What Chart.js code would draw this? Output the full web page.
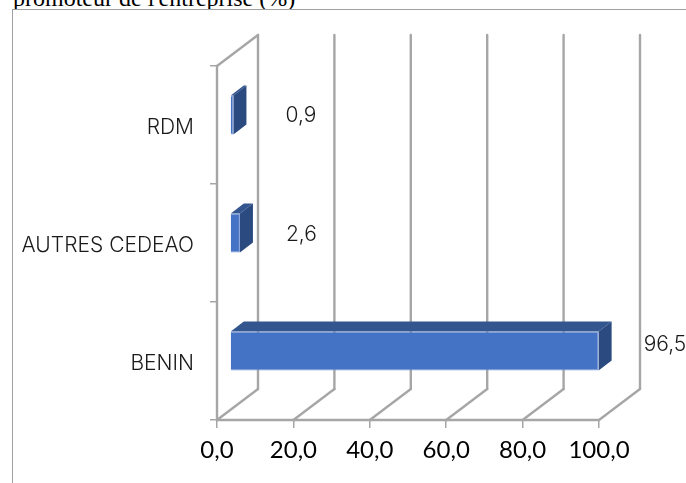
<!DOCTYPE html>
<html><head><meta charset="utf-8">
<style>
html,body{margin:0;padding:0;background:#fff;width:686px;height:483px;overflow:hidden}
#frame{position:absolute;left:12px;top:9px;width:674px;height:474px;border-left:1.5px solid #a0a0a0;border-top:1.5px solid #a0a0a0;box-sizing:border-box}
#cap{position:absolute;left:13px;top:-15px;font:24px/27px "Liberation Serif",serif;color:#000;white-space:nowrap;height:24px;overflow:hidden}
#wrap{position:absolute;left:0;top:0;width:686px;height:483px}
</style>
<script src="https://cdn.jsdelivr.net/npm/chart.js@4"></script>
</head><body>
<div id="cap">promoteur de l'entreprise (%)</div>
<div id="frame"></div>
<div id="wrap"><canvas id="c" width="686" height="483"></canvas></div>
<script>
const categories = ["BENIN", "AUTRES CEDEAO", "RDM"];
const values = [96.5, 2.6, 0.9];
const valueLabels = ["96,5", "2,6", "0,9"];
const xTicks = [0, 20, 40, 60, 80, 100];

const wallDX = 41, wallDY = 31, barDX = 13, barDY = 10;
const labelNudge = [[58, -18], [59, -10], [65, -11]];
const wallColor = "#a6a6a6";

function seg(ctx, x1, y1, x2, y2) { ctx.beginPath(); ctx.moveTo(x1, y1); ctx.lineTo(x2, y2); ctx.stroke(); }
function poly(ctx, pts, color) {
  ctx.fillStyle = color; ctx.beginPath();
  pts.forEach((p, i) => i ? ctx.lineTo(p[0], p[1]) : ctx.moveTo(p[0], p[1]));
  ctx.closePath(); ctx.fill();
}

const depth3d = {
  id: "depth3d",
  beforeDatasetsDraw(chart) {
    const { ctx, chartArea: a, scales: { x } } = chart;
    ctx.save();
    ctx.strokeStyle = wallColor; ctx.lineWidth = 2.4; ctx.lineCap = "round"; ctx.lineJoin = "round";
    xTicks.forEach(v => {
      const px = x.getPixelForValue(v);
      seg(ctx, px, a.bottom, px + wallDX, a.bottom - wallDY);
      seg(ctx, px + wallDX, a.bottom - wallDY, px + wallDX, a.top - wallDY);
    });
    seg(ctx, a.left, a.top, a.left + wallDX, a.top - wallDY);
    seg(ctx, a.left, a.top, a.left, a.bottom);
    seg(ctx, a.left, a.bottom, a.right, a.bottom);
    ctx.restore();
  },
  beforeDatasetDraw(chart, args) {
    const ctx = chart.ctx;
    ctx.save();
    args.meta.data.forEach(b => {
      const top = b.y - b.height / 2 - barDY, bot = b.y + b.height / 2 - barDY;
      const x0 = b.base + barDX, x1 = b.x + barDX;
      poly(ctx, [[x0, top], [x0 + barDX, top - barDY], [x1 + barDX, top - barDY], [x1, top]], "#34568f");
      poly(ctx, [[x1, top], [x1 + barDX, top - barDY], [x1 + barDX, bot - barDY], [x1, bot]], "#2a4a80");
    });
    ctx.translate(barDX, -barDY);
  },
  afterDatasetDraw(chart) { chart.ctx.restore(); },
  afterDatasetsDraw(chart) {
    const ctx = chart.ctx, meta = chart.getDatasetMeta(0);
    ctx.save();
    ctx.font = '300 21px Inter, sans-serif';
    ctx.fillStyle = "#1a1a1a"; ctx.textAlign = "left"; ctx.textBaseline = "middle";
    meta.data.forEach((b, i) => ctx.fillText(valueLabels[i], b.x + labelNudge[i][0], b.y + labelNudge[i][1] + 2));
    ctx.restore();
  }
};

new Chart(document.getElementById("c"), {
  type: "bar",
  data: { labels: categories, datasets: [{ data: values, backgroundColor: "#4472c4", borderWidth: 1, borderColor: "#7d9bd6",
    barPercentage: 0.33, categoryPercentage: 1, clip: false }] },
  plugins: [depth3d],
  options: {
    indexAxis: "y", responsive: false, animation: false,
    layout: { padding: { left: 0, top: 66, right: 87, bottom: 0 } },
    plugins: { legend: { display: false }, tooltip: { enabled: false }, title: { display: false } },
    scales: {
      x: {
        min: 0, max: 100, afterFit(s) { s.height = 63; },
        afterBuildTicks(s) { s.ticks = xTicks.map(v => ({ value: v })); },
        border: { display: false },
        grid: { drawOnChartArea: false, drawTicks: true, tickLength: 8, color: wallColor, lineWidth: 1.5 },
        ticks: { color: "#000", font: { family: "Lato, sans-serif", size: 24 }, padding: 8, maxRotation: 0,
          callback: v => v.toFixed(1).replace(".", ",") }
      },
      y: {
        reverse: true, afterFit(s) { s.width = 217; },
        border: { display: false },
        grid: { offset: true, drawOnChartArea: false, drawTicks: true, tickLength: 7, color: wallColor, lineWidth: 1.5 },
        ticks: { color: "#1a1a1a", font: { family: "Inter, sans-serif", size: 21, weight: 300 }, padding: 16, labelOffset: 3 }
      }
    }
  }
});
</script>
</body></html>
